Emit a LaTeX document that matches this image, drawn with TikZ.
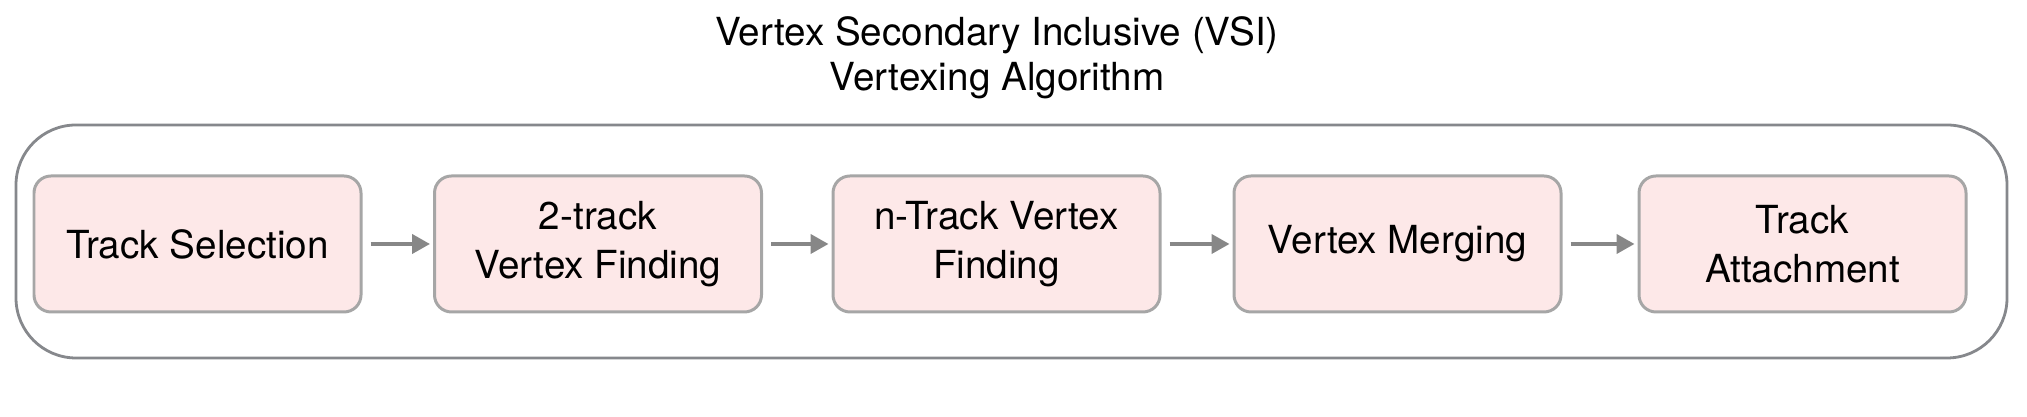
\documentclass[tikz,border=0pt]{standalone}
\usepackage{fontspec}
\setmainfont{TeX Gyre Heros}
\usetikzlibrary{arrows.meta}
\definecolor{boxfill}{HTML}{FDE8E8}
\definecolor{boxline}{HTML}{A6A6A6}
\definecolor{frameline}{HTML}{86888C}
\definecolor{arrowgray}{HTML}{878787}
\begin{document}
\begin{tikzpicture}[
  stage/.style={draw=boxline,fill=boxfill,line width=0.85pt,rounded corners=0.17cm,
    minimum width=3.27cm,minimum height=1.36cm,inner sep=0pt,align=center,
    font=\fontsize{11}{13.9}\selectfont},
  flow/.style={draw=arrowgray,line width=1.1pt,-{Triangle[length=5.1pt,width=5.4pt]},
    shorten <=0.08cm,shorten >=0.03cm}
]
  \useasboundingbox (0,0) rectangle (20.27,4.17);
  \node[font=\fontsize{11}{12.8}\selectfont,align=center] (title) at (9.97,3.595)
    {Vertex Secondary Inclusive (VSI)\\Vertexing Algorithm};
  \draw[frameline,line width=0.8pt,rounded corners=0.6cm] (0.16,0.59) rectangle (20.07,2.92);
  \node[stage] (sel) at (1.975,1.73) {Track Selection};
  \node[stage] (two) at (5.98,1.73) {2-track\\Vertex Finding};
  \node[stage] (ntr) at (9.965,1.73) {n-Track Vertex\\Finding};
  \node[stage] (mrg) at (13.975,1.73) {Vertex Merging};
  \node[stage] (att) at (18.025,1.73) {Track\\Attachment};
  \draw[flow] (sel) -- (two);
  \draw[flow] (two) -- (ntr);
  \draw[flow] (ntr) -- (mrg);
  \draw[flow] (mrg) -- (att);
\end{tikzpicture}
\end{document}
